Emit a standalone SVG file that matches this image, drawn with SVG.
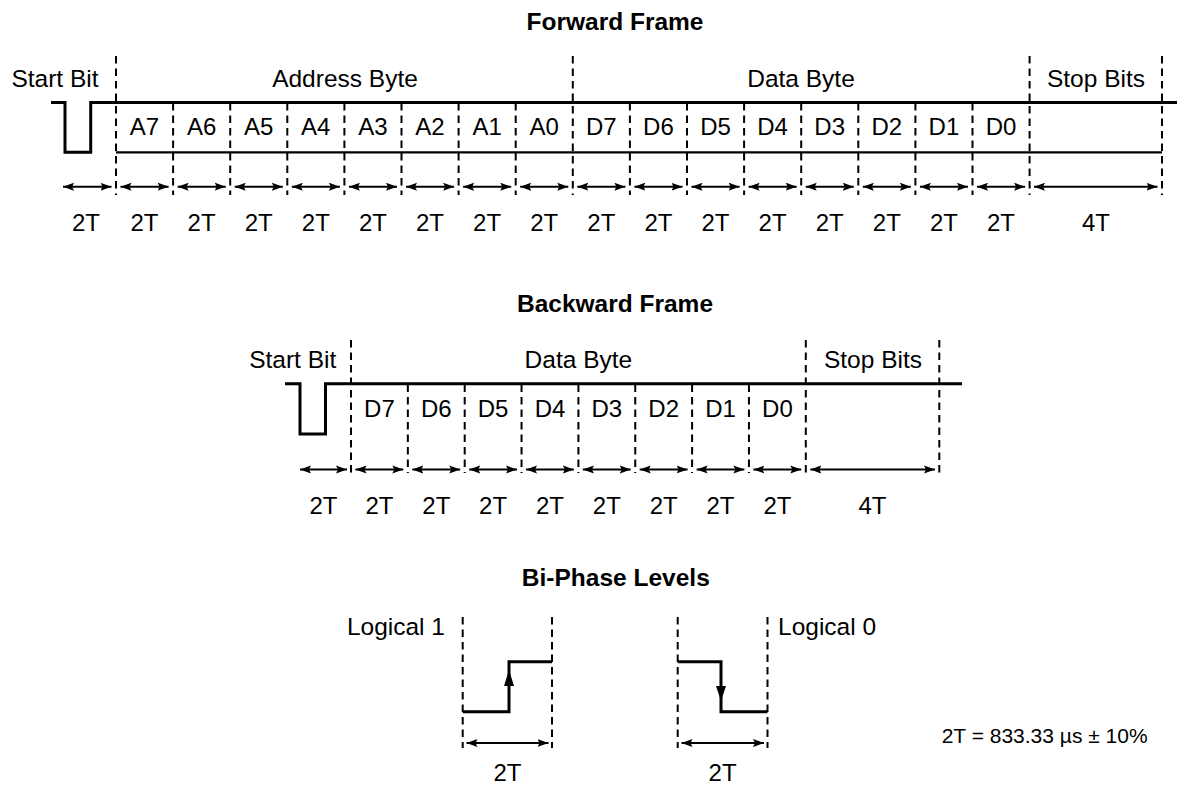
<svg xmlns="http://www.w3.org/2000/svg" width="1177" height="786" viewBox="0 0 1177 786">
<defs>
<style>
text{font-family:"Liberation Sans",Arial,sans-serif;fill:#000}
.t{font-size:24.5px;font-weight:bold;text-anchor:middle}
.h{font-size:24.5px;text-anchor:middle}
.c{font-size:24px;text-anchor:middle}
.w{fill:none;stroke:#000;stroke-width:3}
.b{fill:none;stroke:#000;stroke-width:2.3}
.d{fill:none;stroke:#000;stroke-width:2;stroke-dasharray:7.5 5}
.a{fill:none;stroke:#000;stroke-width:2;marker-start:url(#ah);marker-end:url(#ah)}
</style>
<marker id="ah" markerUnits="userSpaceOnUse" markerWidth="12" markerHeight="9" refX="11" refY="4" orient="auto-start-reverse" viewBox="0 0 12 8">
<path d="M0,0 L11,4 L0,8 L2,4 z" fill="#000"/>
</marker>
</defs>
<rect width="1177" height="786" fill="#fff"/>

<g id="forward-frame">
<text class="t" x="615" y="29.5">Forward Frame</text>
<text class="h" x="55" y="86.5">Start Bit</text>
<text class="h" x="345" y="86.5">Address Byte</text>
<text class="h" x="801" y="86.5">Data Byte</text>
<text class="h" x="1096" y="86.5">Stop Bits</text>
<path class="w" d="M51,102.5 H65 V152.3 H90.7 V102.5 H1177"/>
<path class="b" d="M116,152.3 H1162"/>
<g id="fwd-frame-dividers">
<path class="d" d="M116,56 V195 M572.8,56 V195 M1029.6,56 V195 M1162,56 V195"/>
<path class="d" d="M173.1,103 V195 M230.2,103 V195 M287.3,103 V195 M344.4,103 V195 M401.5,103 V195 M458.6,103 V195 M515.7,103 V195 M629.9,103 V195 M687,103 V195 M744.1,103 V195 M801.2,103 V195 M858.3,103 V195 M915.4,103 V195 M972.5,103 V195"/>
</g>
<g id="fwd-bits">
<text class="c" x="144.5" y="135">A7</text>
<text class="c" x="201.6" y="135">A6</text>
<text class="c" x="258.7" y="135">A5</text>
<text class="c" x="315.8" y="135">A4</text>
<text class="c" x="372.9" y="135">A3</text>
<text class="c" x="430" y="135">A2</text>
<text class="c" x="487.1" y="135">A1</text>
<text class="c" x="544.2" y="135">A0</text>
<text class="c" x="601.3" y="135">D7</text>
<text class="c" x="658.4" y="135">D6</text>
<text class="c" x="715.5" y="135">D5</text>
<text class="c" x="772.6" y="135">D4</text>
<text class="c" x="829.7" y="135">D3</text>
<text class="c" x="886.8" y="135">D2</text>
<text class="c" x="943.9" y="135">D1</text>
<text class="c" x="1001" y="135">D0</text>
</g>
<g id="fwd-durations">
<text class="c" x="86" y="231">2T</text>
<text class="c" x="144.5" y="231">2T</text>
<text class="c" x="201.6" y="231">2T</text>
<text class="c" x="258.7" y="231">2T</text>
<text class="c" x="315.8" y="231">2T</text>
<text class="c" x="372.9" y="231">2T</text>
<text class="c" x="430" y="231">2T</text>
<text class="c" x="487.1" y="231">2T</text>
<text class="c" x="544.2" y="231">2T</text>
<text class="c" x="601.3" y="231">2T</text>
<text class="c" x="658.4" y="231">2T</text>
<text class="c" x="715.5" y="231">2T</text>
<text class="c" x="772.6" y="231">2T</text>
<text class="c" x="829.7" y="231">2T</text>
<text class="c" x="886.8" y="231">2T</text>
<text class="c" x="943.9" y="231">2T</text>
<text class="c" x="1001" y="231">2T</text>
<text class="c" x="1096" y="231">4T</text>
</g>
</g>

<g id="backward-frame">
<text class="t" x="615" y="311.7">Backward Frame</text>
<text class="h" x="292.7" y="368">Start Bit</text>
<text class="h" x="578.4" y="368">Data Byte</text>
<text class="h" x="873" y="368">Stop Bits</text>
<path class="w" d="M285,383.8 H300 V434 H325.5 V383.8 H962"/>
<g id="bwd-frame-dividers">
<path class="d" d="M351,340 V473 M805.8,340 V473 M939.3,340 V473"/>
<path class="d" d="M407.85,384.5 V473 M464.7,384.5 V473 M521.55,384.5 V473 M578.4,384.5 V473 M635.25,384.5 V473 M692.1,384.5 V473 M748.95,384.5 V473"/>
</g>
<g id="bwd-bits">
<text class="c" x="379.4" y="416.5">D7</text>
<text class="c" x="436.3" y="416.5">D6</text>
<text class="c" x="493.1" y="416.5">D5</text>
<text class="c" x="550" y="416.5">D4</text>
<text class="c" x="606.8" y="416.5">D3</text>
<text class="c" x="663.7" y="416.5">D2</text>
<text class="c" x="720.5" y="416.5">D1</text>
<text class="c" x="777.4" y="416.5">D0</text>
</g>
<g id="bwd-durations">
<text class="c" x="323.5" y="513.5">2T</text>
<text class="c" x="379.4" y="513.5">2T</text>
<text class="c" x="436.3" y="513.5">2T</text>
<text class="c" x="493.1" y="513.5">2T</text>
<text class="c" x="550" y="513.5">2T</text>
<text class="c" x="606.8" y="513.5">2T</text>
<text class="c" x="663.7" y="513.5">2T</text>
<text class="c" x="720.5" y="513.5">2T</text>
<text class="c" x="777.4" y="513.5">2T</text>
<text class="c" x="872.5" y="513.5">4T</text>
</g>
</g>

<g id="bi-phase-levels">
<text class="t" x="615.8" y="586">Bi-Phase Levels</text>
<g id="logical-1">
<text class="h" x="445" y="635" style="text-anchor:end">Logical 1</text>
<path class="d" d="M462.7,617 V748 M552,617 V748"/>
<path class="w" d="M462.7,711.7 H509 V661.7 H552"/>
<path d="M509,670 L514,686 L504,686 z" fill="#000"/>
<text class="c" x="507.4" y="781">2T</text>
</g>
<g id="logical-0">
<text class="h" x="778" y="635" style="text-anchor:start">Logical 0</text>
<path class="d" d="M677.7,617 V748 M767.5,617 V748"/>
<path class="w" d="M677.7,661.7 H721 V711.7 H767.5"/>
<path d="M721,701 L716,686 L726,686 z" fill="#000"/>
<text class="c" x="722.6" y="781">2T</text>
</g>
<text x="941.7" y="742.7" style="font-size:21px">2T = 833.33 µs ± 10%</text>
</g>

<g id="connectors">
<path class="a" d="M63,186.7 H111.5"/>
<path class="a" d="M120.5,186.7 H168.6"/>
<path class="a" d="M177.6,186.7 H225.7"/>
<path class="a" d="M234.7,186.7 H282.8"/>
<path class="a" d="M291.8,186.7 H339.9"/>
<path class="a" d="M348.9,186.7 H397"/>
<path class="a" d="M406,186.7 H454.1"/>
<path class="a" d="M463.1,186.7 H511.2"/>
<path class="a" d="M520.2,186.7 H568.3"/>
<path class="a" d="M577.3,186.7 H625.4"/>
<path class="a" d="M634.4,186.7 H682.5"/>
<path class="a" d="M691.5,186.7 H739.6"/>
<path class="a" d="M748.6,186.7 H796.7"/>
<path class="a" d="M805.7,186.7 H853.8"/>
<path class="a" d="M862.8,186.7 H910.9"/>
<path class="a" d="M919.9,186.7 H968"/>
<path class="a" d="M977,186.7 H1025.1"/>
<path class="a" d="M1034,186.7 H1157.5"/>

<path class="a" d="M300,469.5 H347"/>
<path class="a" d="M355.5,469.5 H403.3"/>
<path class="a" d="M412.3,469.5 H460.2"/>
<path class="a" d="M469.2,469.5 H517"/>
<path class="a" d="M526,469.5 H573.9"/>
<path class="a" d="M582.9,469.5 H630.7"/>
<path class="a" d="M639.7,469.5 H687.6"/>
<path class="a" d="M696.6,469.5 H744.4"/>
<path class="a" d="M753.4,469.5 H801.3"/>
<path class="a" d="M810.3,469.5 H935"/>

<path class="a" d="M466.5,743 H548.5"/>
<path class="a" d="M681.5,743 H764"/>
</g>
</svg>
